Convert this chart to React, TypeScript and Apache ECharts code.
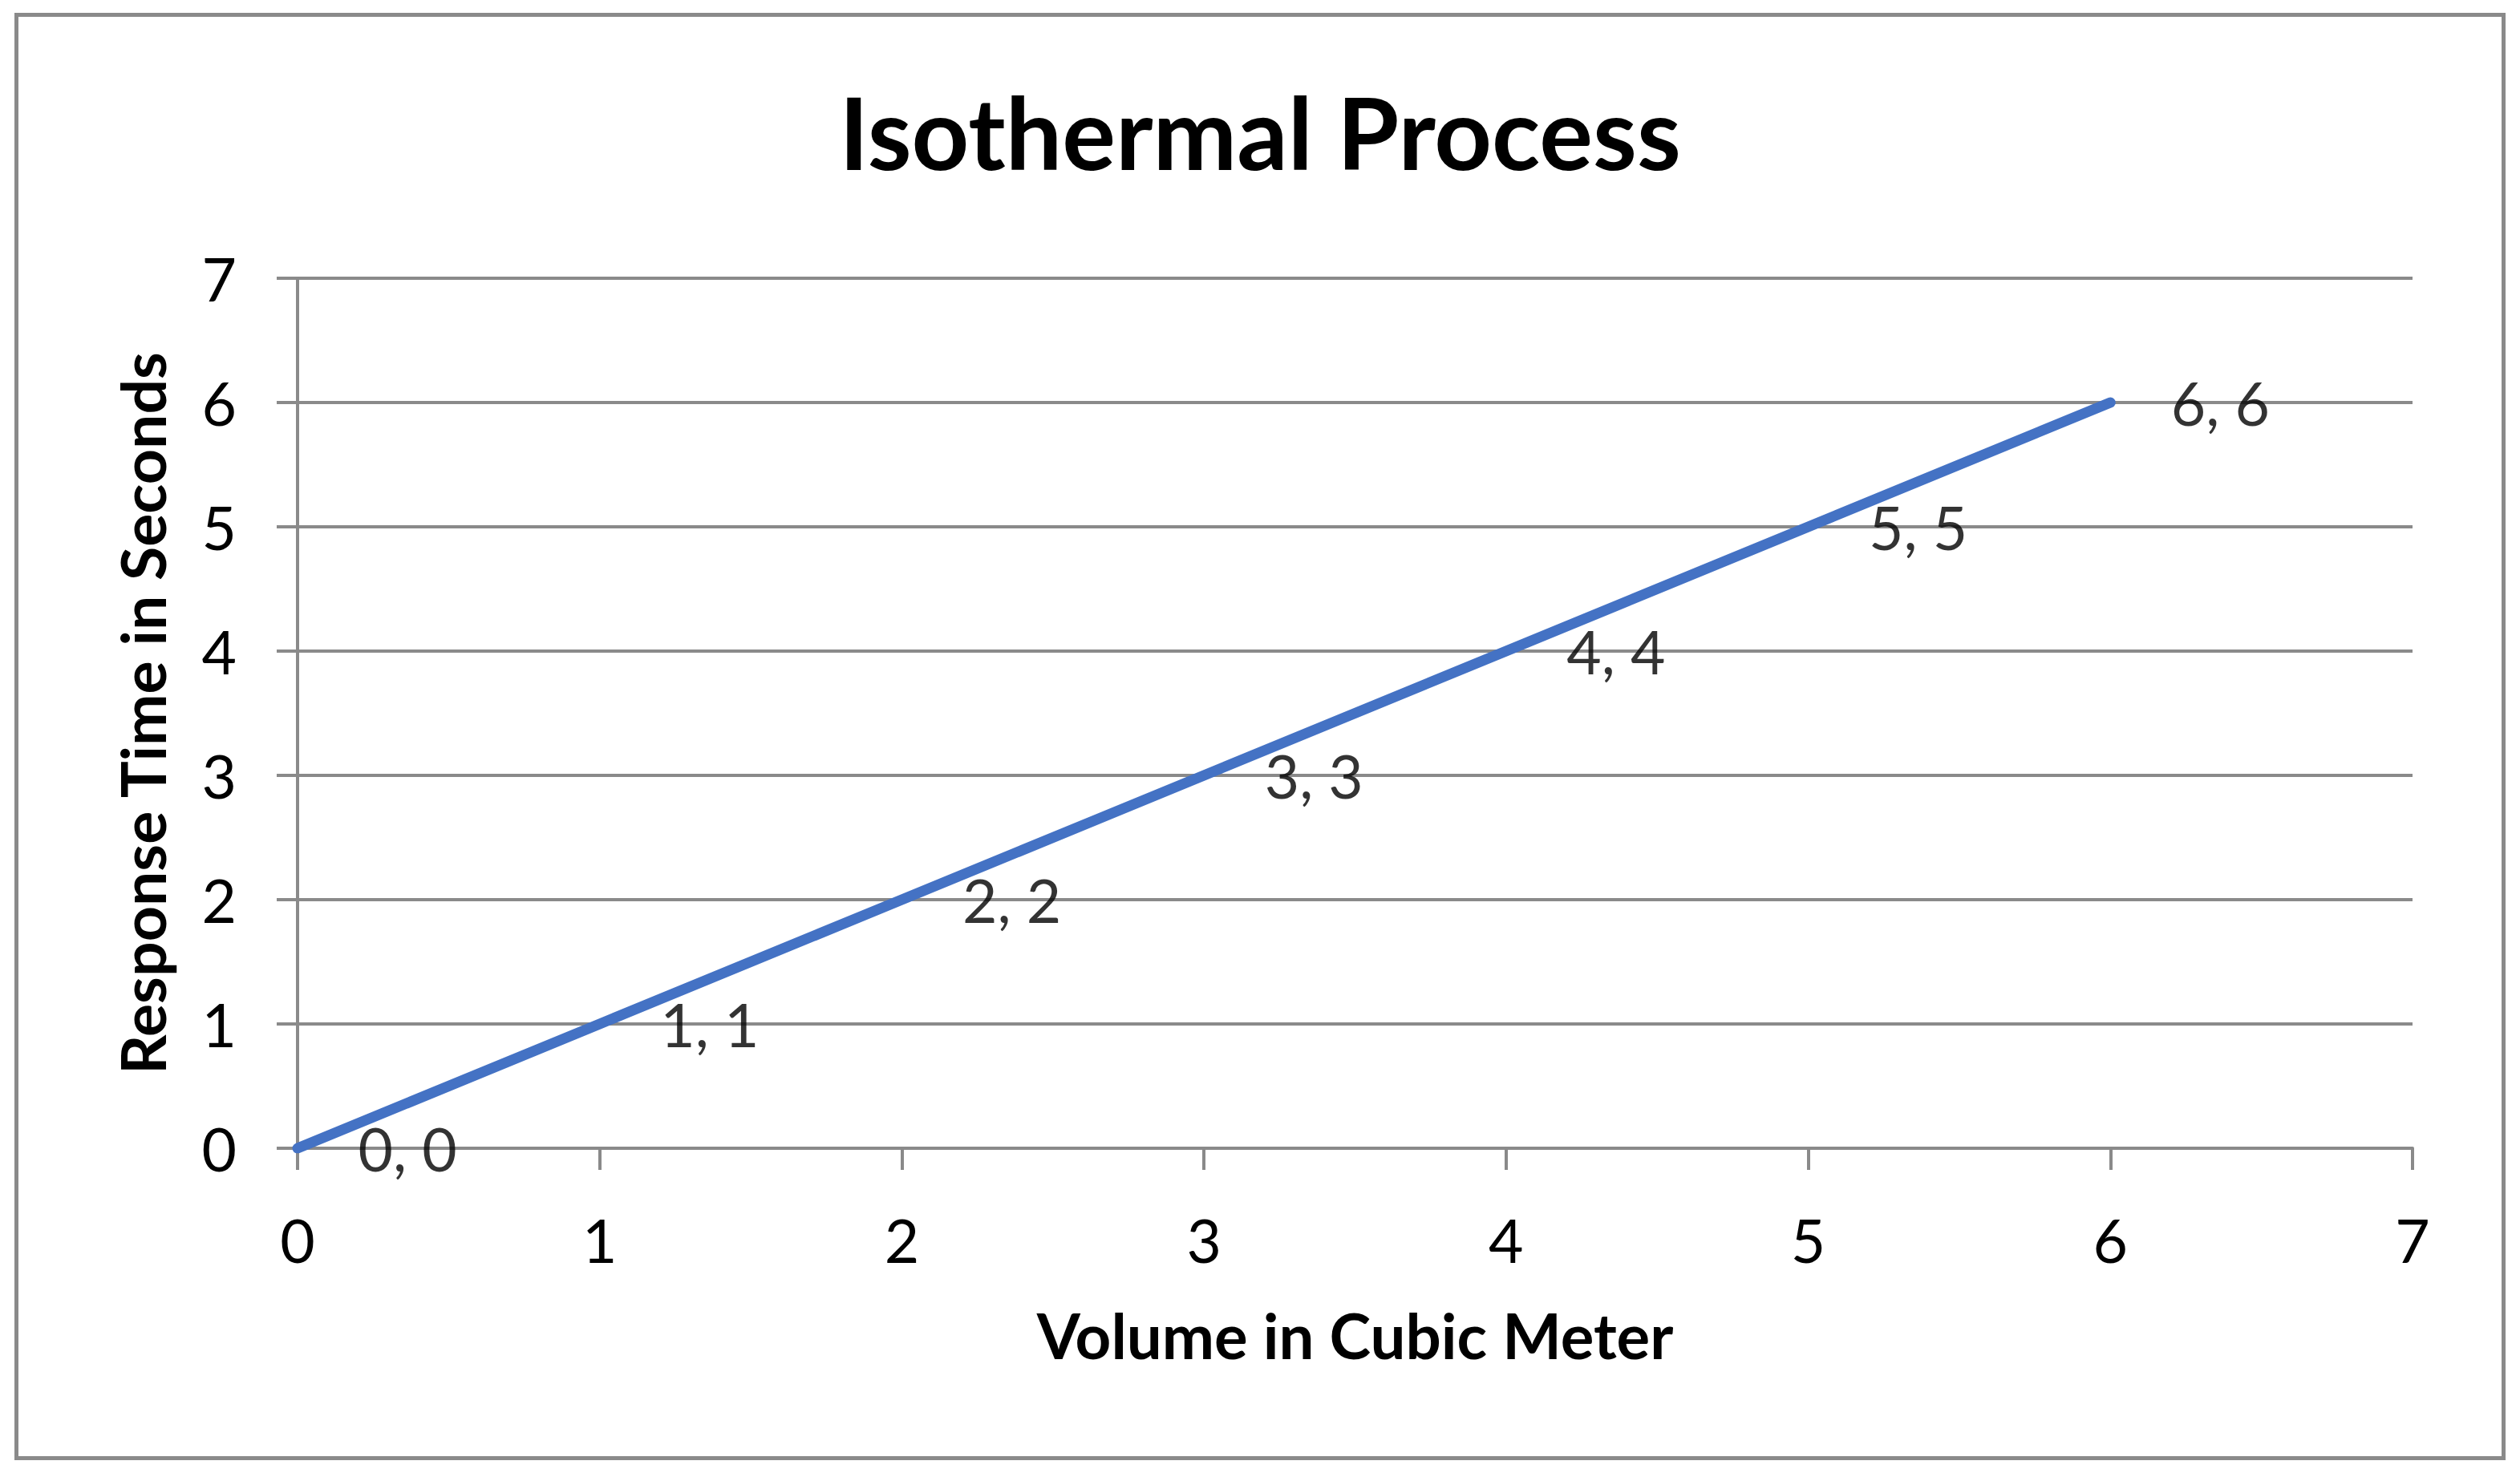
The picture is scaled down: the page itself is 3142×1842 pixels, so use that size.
import React, { useEffect, useRef } from "react";
import * as echarts from "echarts";

const chartTitle = "Isothermal Process";
const xAxisName = "Volume in Cubic Meter";
const yAxisName = "Response Time in Seconds";
const volumeValues = [0, 1, 2, 3, 4, 5, 6];
const responseValues = [0, 1, 2, 3, 4, 5, 6];
const axisMin = 0;
const axisMax = 7;
const axisInterval = 1;

const GRAY = "#8a8a8a";
const FONT = "Lato, 'Open Sans', sans-serif";

export default function App() {
  const ref = useRef<HTMLDivElement>(null);
  useEffect(() => {
    if (!ref.current) return;
    const chart = echarts.init(ref.current, null, { renderer: "svg" });
    const points = volumeValues.map((x, i) => [x, responseValues[i]]);
    chart.setOption({
      animation: false,
      backgroundColor: "#ffffff",
      textStyle: { fontFamily: FONT },
      title: {
        text: chartTitle,
        left: "center",
        top: 96,
        textStyle: { fontFamily: FONT, fontWeight: "bold", fontSize: 125, color: "#000" },
      },
      graphic: [
        {
          type: "rect",
          shape: { x: 20.5, y: 18.5, width: 3101, height: 1800 },
          style: { fill: "none", stroke: GRAY, lineWidth: 5 },
          silent: true,
        },
      ],
      grid: { left: 371, top: 347, width: 2637, height: 1085, containLabel: false },
      xAxis: {
        type: "value",
        min: axisMin,
        max: axisMax,
        interval: axisInterval,
        name: xAxisName,
        nameLocation: "middle",
        nameGap: 194,
        nameTextStyle: { fontFamily: FONT, fontWeight: "bold", fontSize: 78, color: "#000" },
        axisLine: { show: true, onZero: false, lineStyle: { color: GRAY, width: 4 } },
        axisTick: { show: true, inside: false, length: 27, lineStyle: { color: GRAY, width: 4 } },
        axisLabel: { margin: 76, fontFamily: FONT, fontSize: 75, color: "#000" },
        splitLine: { show: false },
      },
      yAxis: {
        type: "value",
        min: axisMin,
        max: axisMax,
        interval: axisInterval,
        name: yAxisName,
        nameLocation: "middle",
        nameRotate: 90,
        nameGap: 156,
        nameTextStyle: { fontFamily: FONT, fontWeight: "bold", fontSize: 77, color: "#000" },
        axisLine: { show: true, onZero: false, lineStyle: { color: GRAY, width: 4 } },
        axisTick: { show: true, inside: false, length: 26, lineStyle: { color: GRAY, width: 4 } },
        axisLabel: { margin: 76, fontFamily: FONT, fontSize: 75, color: "#000" },
        splitLine: { show: true, lineStyle: { color: GRAY, width: 4 } },
      },
      series: [
        {
          type: "line",
          data: points,
          symbol: "none",
          clip: true,
          lineStyle: { color: "#4472C4", width: 13, cap: "round", join: "round" },
          z: 3,
        },
        {
          type: "scatter",
          data: points,
          symbolSize: 1,
          itemStyle: { color: "rgba(0,0,0,0)" },
          label: {
            show: true,
            position: "right",
            distance: 75,
            fontFamily: FONT,
            fontSize: 75,
            color: "#000",
            formatter: (p: any) => `${p.value[0]}, ${p.value[1]}`,
          },
          z: 4,
        },
      ],
    });
    return () => chart.dispose();
  }, []);
  return (
    <div
      ref={ref}
      style={{ position: "fixed", left: 0, top: 0, width: 3142, height: 1842, background: "#fff" }}
    />
  );
}
